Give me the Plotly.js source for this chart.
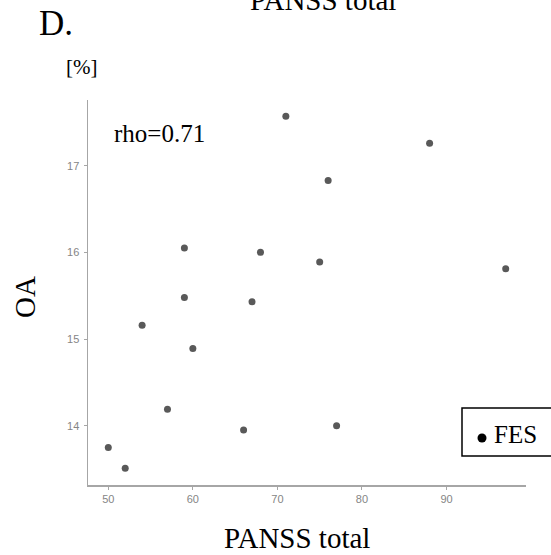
<!DOCTYPE html>
<html>
<head>
<meta charset="utf-8">
<script src="https://cdn.plot.ly/plotly-3.0.1.min.js"></script>
<style>html,body{margin:0;padding:0;background:#fff;}#chart{width:551px;height:555px;}</style>
</head>
<body>
<div id="chart"></div>
<script>
// Data
const panssTotal = [71, 88, 76, 59, 68, 75, 97, 59, 67, 54, 60, 57, 66, 77, 50, 52];
const oaPercent  = [17.57, 17.26, 16.83, 16.05, 16.00, 15.89, 15.81, 15.48, 15.43, 15.16, 14.89, 14.19, 13.95, 14.00, 13.75, 13.51];
const xTickVals = [50, 60, 70, 80, 90];
const yTickVals = [14, 15, 16, 17];
const groupName = 'FES';
const panelLabel = 'D.';
const topTitle = 'PANSS total';
const xTitle = 'PANSS total';
const yTitle = 'OA';
const yUnit = '[%]';
const rhoText = 'rho=0.71';

// layout geometry (pixels)
const W = 551, H = 555;
const L = 88, R = 526, T = 100, B = 485;
const px = x => (x - L) / (R - L);
const py = y => (B - y) / (B - T);

const serif = 'Liberation Serif, Times New Roman, serif';
const axisGray = '#a6a6a6';
const tickFont = {family: 'Liberation Sans, Arial, sans-serif', size: 11, color: '#858585'};

const traces = [
  {
    type: 'scatter', mode: 'markers',
    x: panssTotal, y: oaPercent, name: groupName,
    marker: {color: '#595959', size: 7},
    showlegend: false, hoverinfo: 'x+y'
  }
];

const layout = {
  width: W, height: H,
  margin: {l: L, r: W - R, t: T, b: H - B, pad: 0},
  paper_bgcolor: '#ffffff', plot_bgcolor: '#ffffff',
  font: {family: serif, color: '#000'},
  showlegend: false,
  xaxis: {
    range: [47.6, 99.4], tickvals: xTickVals, ticktext: xTickVals.map(String),
    showline: true, linecolor: axisGray, linewidth: 1.5, mirror: false,
    ticks: 'outside', ticklen: 3, tickwidth: 1, tickcolor: axisGray,
    tickfont: tickFont, showgrid: false, zeroline: false, fixedrange: true
  },
  yaxis: {
    range: [13.316, 17.758], tickvals: yTickVals, ticktext: yTickVals.map(String),
    showline: true, linecolor: axisGray, linewidth: 1.5,
    ticks: 'outside', ticklen: 3, tickwidth: 1, tickcolor: axisGray, ticklabelstandoff: 2,
    tickfont: tickFont, showgrid: false, zeroline: false, fixedrange: true
  },
  shapes: [
    // legend box
    {type: 'rect', xref: 'paper', yref: 'paper', x0: px(462), x1: px(560), y0: py(456), y1: py(408),
     line: {color: '#000', width: 1.5}, fillcolor: '#fff', layer: 'above'},
    // legend marker
    {type: 'circle', xref: 'paper', yref: 'paper', x0: px(477.5), x1: px(486.5), y0: py(442.5), y1: py(433.5),
     line: {color: '#000', width: 0}, fillcolor: '#000', layer: 'above'}
  ],
  annotations: [
    {text: panelLabel, xref: 'paper', yref: 'paper', x: px(37), y: py(24), xanchor: 'left', yanchor: 'middle', showarrow: false, font: {family: serif, size: 35, color: '#000'}},
    {text: topTitle, xref: 'paper', yref: 'paper', x: px(323), y: py(0), xanchor: 'center', yanchor: 'middle', showarrow: false, font: {family: serif, size: 29, color: '#000'}},
    {text: yUnit, xref: 'paper', yref: 'paper', x: px(64), y: py(67), xanchor: 'left', yanchor: 'middle', showarrow: false, font: {family: serif, size: 21, color: '#000'}},
    {text: rhoText, xref: 'paper', yref: 'paper', x: px(112), y: py(133), xanchor: 'left', yanchor: 'middle', showarrow: false, font: {family: serif, size: 25, color: '#000'}},
    {text: xTitle, xref: 'paper', yref: 'paper', x: px(297), y: py(538), xanchor: 'center', yanchor: 'middle', showarrow: false, font: {family: serif, size: 29, color: '#000'}},
    {text: yTitle, xref: 'paper', yref: 'paper', x: px(25), y: py(297), xanchor: 'center', yanchor: 'middle', textangle: -90, showarrow: false, font: {family: serif, size: 29, color: '#000'}},
    {text: groupName, xref: 'paper', yref: 'paper', x: px(492), y: py(434), xanchor: 'left', yanchor: 'middle', showarrow: false, font: {family: serif, size: 25, color: '#000'}}
  ]
};

Plotly.newPlot('chart', traces, layout, {displayModeBar: false, staticPlot: true});
</script>
</body>
</html>
